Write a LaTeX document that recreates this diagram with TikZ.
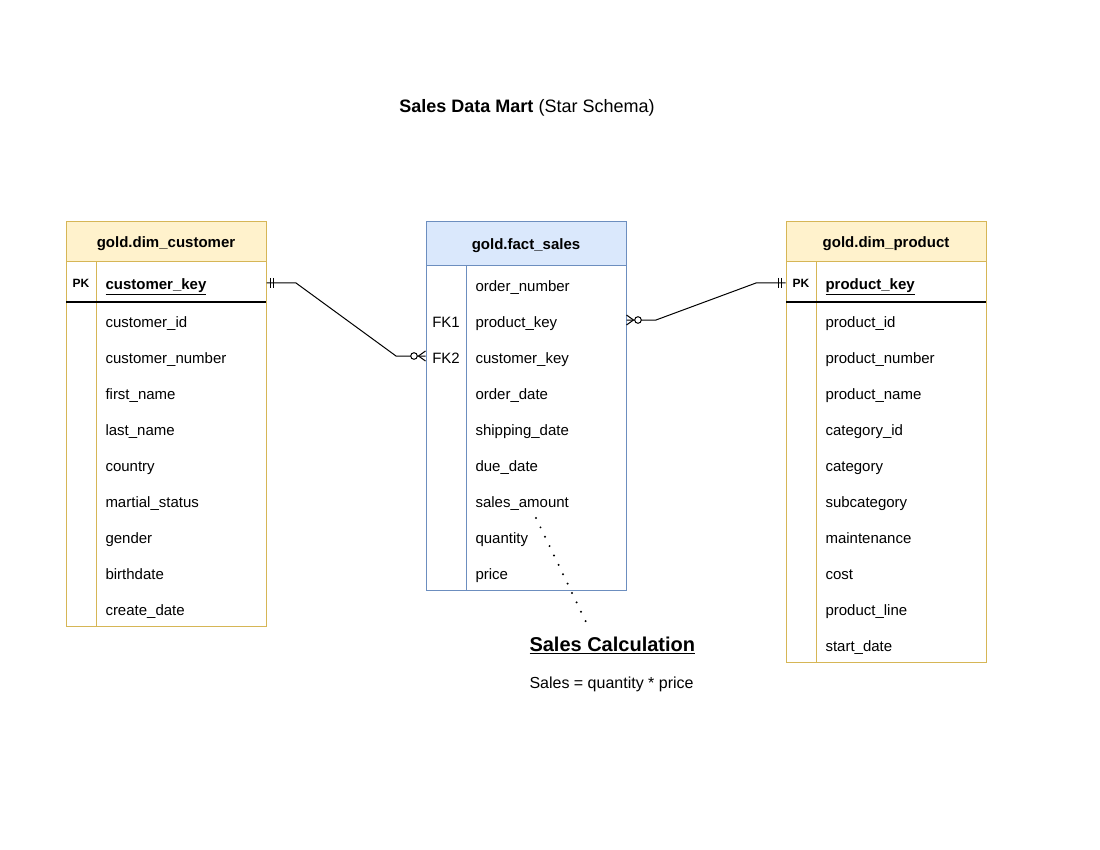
\documentclass[tikz,border=0pt]{standalone}
\usepackage{fontspec}
\setmainfont{Liberation Sans}
\usetikzlibrary{positioning}
\definecolor{yfill}{HTML}{FFF2CC}
\definecolor{yline}{HTML}{D6B656}
\definecolor{bfill}{HTML}{DAE8FC}
\definecolor{bline}{HTML}{6C8EBF}
\tikzset{
  head/.style={minimum width=200pt, minimum height=40pt, inner sep=0pt, text height=11pt, text depth=0pt, font=\fontsize{15}{18}\selectfont\bfseries},
  col/.style={anchor=west, inner sep=0pt, text height=11pt, text depth=0pt, font=\fontsize{15}{18}\selectfont},
  key/.style={inner sep=0pt, text height=9pt, text depth=0pt, font=\fontsize{12}{14}\selectfont\bfseries},
  fk/.style={inner sep=0pt, text height=11pt, text depth=0pt, font=\fontsize{15}{18}\selectfont},
  dots/.style={line width=2.2pt, line cap=round, dash pattern=on 0pt off 10.4pt},
}

\begin{document}
\begin{tikzpicture}[x=1pt,y=-1pt,line width=1pt]
  \useasboundingbox (0,0) rectangle (1100,850);

  \node[text height=13pt, text depth=0pt] (title) at (527,106) {\fontsize{18}{20}\selectfont\textbf{Sales Data Mart} (Star Schema)};

%customer
  \node[head, fill=yfill, draw=yline] (custhead) at (166,242) {gold.dim\_customer};
  \draw[yline] (66,262) rectangle (266,626);
  \draw[yline] (96,262) -- (96,626);
  \draw (66,302) -- (266,302);
  \node[key] (custpk) at (81,283) {PK};
  \node[col, font=\fontsize{15}{18}\selectfont\bfseries] (custkey) at (105,284) {\underline{customer\_key}};
  \foreach \t [count=\i] in {customer\_id, customer\_number, first\_name, last\_name, country, martial\_status, gender, birthdate, create\_date}
    \node[col] (cust\i) at (105,302+36*\i-16) {\t};

%fact
  \node[head, minimum height=44pt, fill=bfill, draw=bline] (facthead) at (526,244) {gold.fact\_sales};
  \draw[bline] (426,266) rectangle (626,590);
  \draw[bline] (466,266) -- (466,590);
  \foreach \t [count=\i] in {order\_number, product\_key, customer\_key, order\_date, shipping\_date, due\_date, sales\_amount, quantity, price}
    \node[col] (fact\i) at (475,266+36*\i-16) {\t};
  \node[fk] (fk1) at (446,322) {FK1};
  \node[fk] (fk2) at (446,358) {FK2};

%product
  \node[head, fill=yfill, draw=yline] (prodhead) at (886,242) {gold.dim\_product};
  \draw[yline] (786,262) rectangle (986,662);
  \draw[yline] (816,262) -- (816,662);
  \draw (786,302) -- (986,302);
  \node[key] (prodpk) at (801,283) {PK};
  \node[col, font=\fontsize{15}{18}\selectfont\bfseries] (prodkey) at (825,284) {\underline{product\_key}};
  \foreach \t [count=\i] in {product\_id, product\_number, product\_name, category\_id, category, subcategory, maintenance, cost, product\_line, start\_date}
    \node[col] (prod\i) at (825,302+36*\i-16) {\t};

%relations
  \coordinate (CK) at (custhead.east |- custpk);
  \coordinate (FK) at ([yshift=2pt]facthead.west |- fk2);
  \coordinate (FP) at ([yshift=2pt]facthead.east |- fk1);
  \coordinate (PP) at (prodhead.west |- prodpk);
  \coordinate (B1) at (296,283);
  \coordinate (B2) at (396,356);
  \coordinate (B3) at (656,320);
  \coordinate (B4) at (756,283);

  \draw (CK) -- (B1) -- (B2) -- (FK);
  \draw (FP) -- (B3) -- (B4) -- (PP);

  \draw (CK) ++(4,-5) -- ++(0,10) (CK) ++(7,-5) -- ++(0,10);
  \draw (FK) ++(-7,0) -- ++(7,-5) (FK) ++(-7,0) -- ++(7,5);
  \draw[fill=white] (FK) ++(-11.5,0) circle (3.3);

  \draw (FP) ++(7,0) -- ++(-7,-5) (FP) ++(7,0) -- ++(-7,5);
  \draw[fill=white] (FP) ++(11.5,0) circle (3.3);
  \draw (PP) ++(-4,-5) -- ++(0,10) (PP) ++(-7,-5) -- ++(0,10);

%note
  \coordinate (D0) at (536,518);
  \coordinate (D1) at (586,622);
  \draw[dots] (D0) -- (D1);
  \node[anchor=west, inner sep=0pt] (calc) at (529,645) {\fontsize{20}{22}\selectfont\bfseries\underline{Sales Calculation}};
  \node[anchor=west, inner sep=0pt] (formula) at (529,684) {\fontsize{16}{18}\selectfont Sales = quantity * price};
\end{tikzpicture}
\end{document}
